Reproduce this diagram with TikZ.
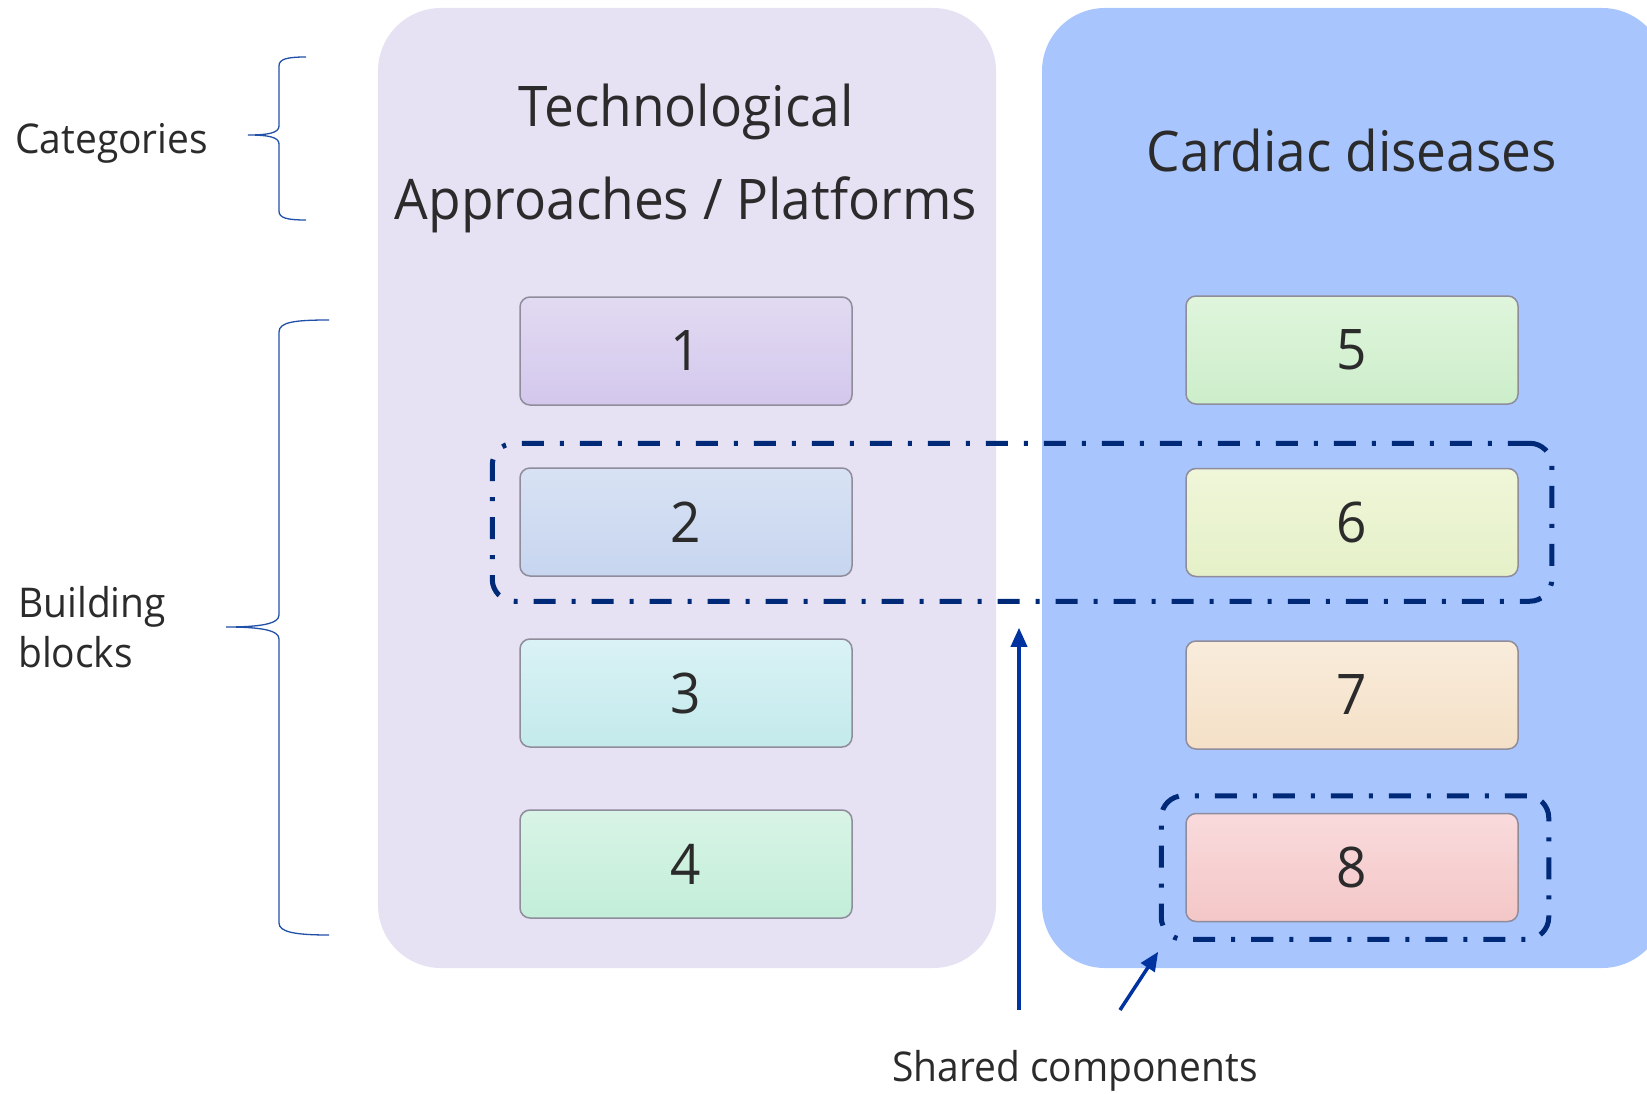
\documentclass[tikz,border=0pt]{standalone}
\usepackage{fontspec}
\setmainfont{Open Sans}[FakeStretch=0.95]
\usetikzlibrary{positioning,arrows.meta,fit}

\definecolor{panelL}{HTML}{E6E1F3}
\definecolor{panelR}{HTML}{A9C5FD}
\definecolor{boxline}{HTML}{8F8C9B}
\definecolor{ink}{HTML}{2B2B2B}
\definecolor{navy}{HTML}{002A78}
\definecolor{arrowblue}{HTML}{0033A0}
\definecolor{bracecol}{HTML}{2050A8}
% block gradients, top / bottom
\definecolor{b1t}{HTML}{E2DAF2}\definecolor{b1b}{HTML}{D3C8EC}
\definecolor{b2t}{HTML}{D8E2F4}\definecolor{b2b}{HTML}{C7D5EF}
\definecolor{b3t}{HTML}{DAF2F5}\definecolor{b3b}{HTML}{C3EAEC}
\definecolor{b4t}{HTML}{D8F4E6}\definecolor{b4b}{HTML}{C3EED9}
\definecolor{b5t}{HTML}{DFF5DC}\definecolor{b5b}{HTML}{CDEECA}
\definecolor{b6t}{HTML}{F0F6D9}\definecolor{b6b}{HTML}{E5F0C8}
\definecolor{b7t}{HTML}{F9ECDB}\definecolor{b7b}{HTML}{F4E0C7}
\definecolor{b8t}{HTML}{F9DADC}\definecolor{b8b}{HTML}{F4C7C7}

\begin{document}
\begin{tikzpicture}[
    x=1pt, y=-1pt,
    node distance=63pt,
    block/.style={draw=boxline, line width=1.5pt, rounded corners=10pt, minimum width=332pt, minimum height=108pt, inner sep=0pt, text=ink, font=\fontsize{56}{60}\selectfont},
    title/.style={text=ink, inner sep=0pt, font=\fontsize{56}{93}\selectfont},
    label/.style={text=ink, inner sep=0pt, font=\fontsize{41}{50}\selectfont},
    group/.style={draw=navy, line width=5pt, rounded corners=22pt, dash pattern=on 22pt off 16pt on 4pt off 16pt},
    arrow/.style={-{Triangle[length=19pt, width=16pt]}, draw=arrowblue, line width=3.5pt},
    bracepen/.style={draw=bracecol, line width=1.3pt}
  ]
    \useasboundingbox (0,0) rectangle (1647,1094);

    % the two category panels
    \fill[panelL, rounded corners=63pt] (378,8) rectangle (996,968);
    \fill[panelR, rounded corners=63pt] (1042,8) rectangle (1665,968);

    \node[title, align=center] (techtitle) at (686,158.5) {Technological\\Approaches / Platforms};
    \node[title, anchor=base] (cardtitle) at (1352,172) {Cardiac diseases};

    % building blocks, left column
    \node[block, top color=b1t, bottom color=b1b] (b1) at (686,351) {1};
    \node[block, top color=b2t, bottom color=b2b, below=61.5pt of b1] (b2) {2};
    \node[block, top color=b3t, bottom color=b3b, below=61.5pt of b2] (b3) {3};
    \node[block, top color=b4t, bottom color=b4b, below=61.5pt of b3] (b4) {4};

    % building blocks, right column
    \node[block, top color=b5t, bottom color=b5b] (b5) at (1352,350) {5};
    \node[block, top color=b6t, bottom color=b6b, below=of b5] (b6) {6};
    \node[block, top color=b7t, bottom color=b7b, below=of b6] (b7) {7};
    \node[block, top color=b8t, bottom color=b8b, below=of b7] (b8) {8};

    % shared components
    \node[group, fit=(b2)(b6), inner xsep=30pt, inner ysep=24pt, xshift=3pt] (grpA) {};
    \node[group, fit=(b8), inner xsep=27pt, inner ysep=17pt, xshift=3pt] (grpB) {};

    \node[label, anchor=base] (shared) at (1075,1081) {Shared components};
    \coordinate (tailA) at (1019,1010);
    \coordinate (tailB) at (1120,1010);
    \draw[arrow, shorten >=24pt] (tailA) -- (tailA |- grpA.south);
    \draw[arrow, shorten >=12pt] (tailB) -- ([xshift=6pt]grpB.south west);

    % braces and their labels
    \node[label, anchor=base west] (cats) at (15,154) {Categories};
    \node[label, align=left, anchor=west] (blocks) at (18,627.5) {Building\\blocks};
    \draw[bracepen] (306,57) .. controls (287,57) and (279,59) .. (279,66) -- (279,126)
      .. controls (279,133) and (268,135) .. (248,135)
      .. controls (268,135) and (279,137) .. (279,144) -- (279,211)
      .. controls (279,218) and (287,220) .. (306,220);
    \draw[bracepen] (329,320) .. controls (295,320) and (279,322) .. (279,332) -- (279,615)
      .. controls (279,624) and (260,627) .. (226,627)
      .. controls (260,627) and (279,630) .. (279,639) -- (279,923)
      .. controls (279,932) and (295,935) .. (329,935);
  \end{tikzpicture}
\end{document}
